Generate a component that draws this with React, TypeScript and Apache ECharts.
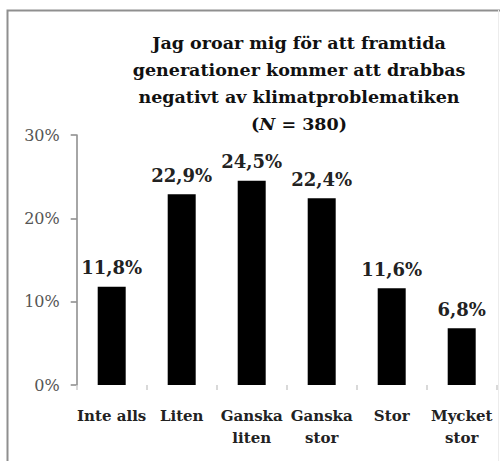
import React, { useEffect, useRef } from "react";
import * as echarts from "echarts";

const categories = ["Inte alls", "Liten", "Ganska\nliten", "Ganska\nstor", "Stor", "Mycket\nstor"];
const values = [11.8, 22.9, 24.5, 22.4, 11.6, 6.8];
const yTicks = [0, 10, 20, 30];
const titleLines = [
  "Jag oroar mig för att framtida",
  "generationer kommer att drabbas",
  "negativt av klimatproblematiken",
];
const nValue = 380;

const SERIF = "DejaVu Serif";

export default function App() {
  const ref = useRef<HTMLDivElement>(null);
  useEffect(() => {
    if (!ref.current) return;
    const chart = echarts.init(ref.current, undefined, { renderer: "svg" });
    chart.setOption({
      animation: false,
      backgroundColor: "#ffffff",
      title: {
        text: titleLines.join("\n") + "\n({i|N} = " + nValue + ")",
        left: 299,
        top: 29,
        padding: 0,
        textAlign: "center",
        textStyle: {
          fontFamily: SERIF,
          fontSize: 17.5,
          fontWeight: "bold",
          color: "#111",
          lineHeight: 27,
          rich: {
            i: {
              fontFamily: SERIF,
              fontSize: 17.5,
              fontWeight: "bold",
              fontStyle: "italic",
              color: "#111",
              lineHeight: 27,
            },
          },
        },
      },
      grid: { left: 76.7, right: 3.3, top: 135, bottom: 76, containLabel: false },
      xAxis: {
        type: "category",
        data: categories,
        axisLine: { show: false },
        axisTick: { show: true, length: 5, lineStyle: { color: "#cccccc", width: 1.5 } },
        axisLabel: {
          interval: 0,
          margin: 20,
          fontFamily: SERIF,
          fontSize: 15,
          fontWeight: "bold",
          color: "#222",
          lineHeight: 22,
        },
      },
      yAxis: {
        type: "value",
        min: yTicks[0],
        max: yTicks[yTicks.length - 1],
        interval: 10,
        axisLine: { show: true, lineStyle: { color: "#888", width: 1.5 } },
        axisTick: { show: true, length: 6, lineStyle: { color: "#888", width: 1.5 } },
        splitLine: { show: false },
        axisLabel: {
          margin: 17,
          fontFamily: SERIF,
          fontSize: 16,
          color: "#555",
          formatter: (v: number) => v + "%",
        },
      },
      series: [
        {
          type: "bar",
          data: values,
          barWidth: "40%",
          itemStyle: { color: "#000" },
          label: {
            show: true,
            position: "top",
            distance: 10,
            fontFamily: SERIF,
            fontSize: 18,
            fontWeight: "bold",
            color: "#222",
            formatter: (p: any) => p.value.toFixed(1).replace(".", ",") + "%",
          },
        },
      ],
      graphic: [
        {
          type: "polyline",
          shape: { points: [[7.5, 470], [7.5, 10.5], [500, 10.5]] },
          style: { stroke: "#8f8f8f", lineWidth: 2, fill: null },
          silent: true,
        },
        {
          type: "line",
          shape: { x1: 498.5, y1: 10, x2: 498.5, y2: 461 },
          style: { stroke: "#ececec", lineWidth: 1 },
          silent: true,
        },
      ],
    });
    return () => chart.dispose();
  }, []);
  return (
    <div
      ref={ref}
      style={{ position: "absolute", left: 0, top: 0, width: 500, height: 461 }}
    />
  );
}
